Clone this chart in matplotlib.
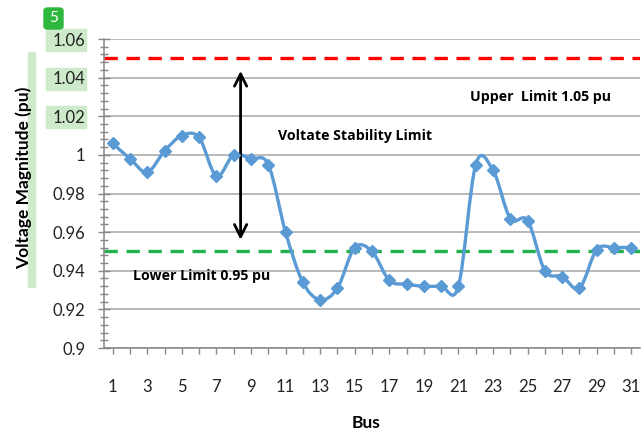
import numpy as np
import matplotlib.pyplot as plt
from matplotlib.path import Path
from matplotlib.patches import PathPatch, Rectangle, FancyBboxPatch
from matplotlib.ticker import MultipleLocator

# bus voltage profile
bus = np.arange(1, 32)
voltage = [1.006, 0.998, 0.991, 1.002, 1.010, 1.009, 0.989, 1.000, 0.998, 0.995,
           0.960, 0.934, 0.925, 0.931, 0.952, 0.950, 0.935, 0.933, 0.932, 0.932,
           0.932, 0.995, 0.992, 0.967, 0.966, 0.940, 0.937, 0.931, 0.951, 0.952,
           0.952]
upper_limit = 1.05
lower_limit = 0.95
y_ticks = [0.9, 0.92, 0.94, 0.96, 0.98, 1.0, 1.02, 1.04, 1.06]
y_tick_labels = ['0.9', '0.92', '0.94', '0.96', '0.98', '1', '1.02', '1.04', '1.06']

blue = '#5B9BD5'
plt.rcParams['font.family'] = ['Lato', 'DejaVu Sans']
note_font = ['Open Sans', 'DejaVu Sans']


def smooth_path(xs, ys):
    # excel style smoothed line: cubic bezier through every point
    pts = np.column_stack([xs, ys]).astype(float)
    padded = np.vstack([pts[0], pts, pts[-1]])
    verts = [pts[0]]
    codes = [Path.MOVETO]
    for i in range(len(pts) - 1):
        p0, p1, p2, p3 = padded[i], padded[i + 1], padded[i + 2], padded[i + 3]
        c1 = p1 + (p2 - p0) / 6.0
        c2 = p2 - (p3 - p1) / 6.0
        verts += [c1, c2, p2]
        codes += [Path.CURVE4] * 3
    return Path(verts, codes)


fig = plt.figure(figsize=(6.42, 4.36), dpi=100)
ax = fig.add_axes([104 / 642, 1 - 348 / 436, 536 / 642, 309 / 436])

ax.set_xlim(0.5, 31.5)
ax.set_ylim(0.9, 1.06)

# gridlines
ax.yaxis.set_minor_locator(MultipleLocator(0.004))
ax.grid(axis='y', which='major', color='#A6A6A6', lw=1.1, zorder=0)
ax.set_axisbelow(True)

# limits
ax.axhline(upper_limit, color='#FF0000', lw=2.4, dashes=(4, 2.6), zorder=2)
ax.axhline(lower_limit, color='#22B14C', lw=2.4, dashes=(4, 2.6), zorder=2)

# voltage profile
ax.add_patch(PathPatch(smooth_path(bus, voltage), fill=False, edgecolor=blue,
                       lw=2.4, zorder=3))
ax.plot(bus, voltage, linestyle='none', marker='D', ms=6, color=blue, zorder=4)

# stability band arrow
ax.annotate('', xy=(8.4, 1.0435), xytext=(8.4, 0.956),
            arrowprops=dict(arrowstyle='<->', lw=2, color='black',
                            mutation_scale=22, shrinkA=0, shrinkB=0))

ax.text(21.65, 1.030, 'Upper  Limit 1.05 pu', fontsize=10.2, fontweight='bold',
        va='center', ha='left', family=note_font)
ax.text(10.55, 1.0098, 'Voltate Stability Limit', fontsize=10.2, fontweight='bold',
        va='center', ha='left', family=note_font)
ax.text(2.15, 0.9373, 'Lower Limit 0.95 pu', fontsize=10.2, fontweight='bold',
        va='center', ha='left', family=note_font)

# axes styling
for side in ['top', 'right']:
    ax.spines[side].set_visible(False)
for side in ['left', 'bottom']:
    ax.spines[side].set_color('#868686')
    ax.spines[side].set_linewidth(1.1)

ax.set_xticks(bus)
ax.set_xticklabels([str(b) if b % 2 == 1 else '' for b in bus])
ax.tick_params(axis='x', direction='out', length=4, width=1, color='#868686',
               labelsize=12, pad=18, labelcolor='#222222')
ax.set_yticks(y_ticks)
ax.set_yticklabels(y_tick_labels)
ax.tick_params(axis='y', which='major', direction='inout', length=9, width=1,
               color='#868686', labelsize=12, pad=9, labelcolor='#222222')
ax.tick_params(axis='y', which='minor', direction='inout', length=6, width=1,
               color='#868686')

fig.text(24 / 642, 1 - 178 / 436, 'Voltage Magnitude (pu)', rotation=90,
         fontsize=12.5, fontweight='bold', ha='center', va='center')
fig.text(366 / 642, 1 - 423 / 436, 'Bus', fontsize=12.5, fontweight='bold',
         ha='center', va='center')

# highlight marks present in the reference image
hl = '#CDEBCB'
fig.patches.append(Rectangle((28 / 642, 1 - 287 / 436), 7 / 642, 235 / 436,
                             transform=fig.transFigure, color=hl, zorder=-1))
for top in [29, 68, 106]:
    fig.patches.append(Rectangle((46 / 642, 1 - (top + 22) / 436), 40 / 642, 22 / 436,
                                 transform=fig.transFigure, color=hl, zorder=-1))
fig.patches.append(FancyBboxPatch((44 / 642, 1 - 29 / 436), 19 / 642, 21 / 436,
                                  boxstyle='round,pad=0,rounding_size=0.006',
                                  transform=fig.transFigure, color='#2DB83D'))
fig.text(53.5 / 642, 1 - 18 / 436, '5', color='white', fontsize=11,
         ha='center', va='center')

fig.savefig('out.png', dpi=100)
